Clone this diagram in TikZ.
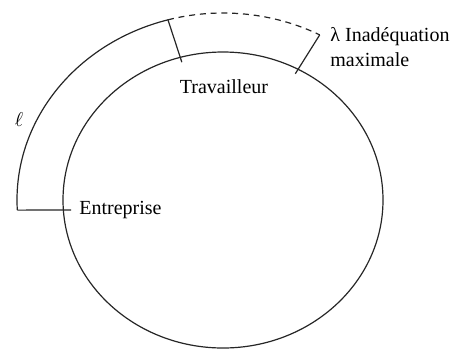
\documentclass[tikz,border=0pt]{standalone}
\usepackage{amsmath}
\usepackage{amssymb}
\usepackage{fontspec}
\setmainfont{Liberation Serif}
\usepackage{tikz}
\usetikzlibrary{calc,positioning}

\tikzset{
  bord/.style={line width=0.6pt, black!85},
  tiret/.style={bord, dash pattern=on 3pt off 2.4pt},
  lbl/.style={font=\fontsize{10}{12.5}\selectfont, inner sep=0pt}
}

\begin{document}
\begin{tikzpicture}[x=0.5pt,y=0.5pt]
            \useasboundingbox (0,0) rectangle (459,350);
            \coordinate (centre) at (223,150);
            \coordinate (eEnt) at ($(centre)+(183.1:206 and 187)$);
            \coordinate (fEnt) at (71,140);
            \coordinate (eTrav) at ($(centre)+(105.5:206 and 187)$);
            \coordinate (iTrav) at ($(centre)+(105.5:154 and 143)$);
            \coordinate (eMax) at ($(centre)+(62:206 and 187)$);
            \coordinate (iMax) at ($(centre)+(62:154 and 143)$);
            \draw[bord] (centre) ellipse [x radius=160, y radius=148];
            \draw[bord] (eEnt) arc [start angle=183.1, end angle=105.5, x radius=206, y radius=187];
            \draw[tiret] (eTrav) arc [start angle=105.5, end angle=62, x radius=206, y radius=187];
            \draw[bord] (eEnt) -- (fEnt);
            \draw[bord] (eTrav) -- (iTrav);
            \draw[bord] (eMax) -- (iMax);
            \node[lbl, anchor=west] (entreprise) at ([xshift=4pt]fEnt) {Entreprise};
            \node[lbl] (travailleur) at (224,263) {Travailleur};
            \node[lbl, anchor=west, align=left] (inadequation) at (330,302.5) {λ Inadéquation\\maximale};
            \node[lbl] (ell) at (19,230) {$\ell$};
        \end{tikzpicture}
\end{document}
